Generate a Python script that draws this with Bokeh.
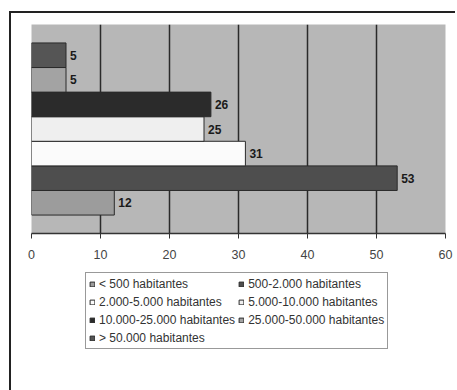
from bokeh.plotting import figure
from bokeh.layouts import column
from bokeh.models import Range1d, FixedTicker, Legend, LegendItem, ColumnDataSource
from bokeh.core.properties import value
from bokeh.embed import file_html
from bokeh.resources import INLINE

categories = ["< 500 habitantes", "500-2.000 habitantes", "2.000-5.000 habitantes",
              "5.000-10.000 habitantes", "10.000-25.000 habitantes",
              "25.000-50.000 habitantes", "> 50.000 habitantes"]
values = [12, 53, 31, 25, 26, 5, 5]
colors = ["#9c9c9c", "#4e4e4e", "#fbfbfb", "#efefef", "#2b2b2b", "#a3a3a3", "#555555"]
x_ticks = [0, 10, 20, 30, 40, 50, 60]

FONT = "Liberation Sans"

# ---- chart ----
p = figure(width=444, height=250, output_backend="svg", toolbar_location=None,
           x_range=Range1d(0, 60), y_range=Range1d(-1.25, 7.25),
           min_border_left=20, min_border_right=10, min_border_top=11, min_border_bottom=30)
p.background_fill_color = "#b7b7b7"
p.border_fill_color = "white"
p.outline_line_color = None

p.yaxis.visible = False
p.ygrid.visible = False
p.xgrid.ticker = FixedTicker(ticks=[10, 20, 30, 40, 50])
p.xgrid.grid_line_color = "#2a2a2a"
p.xgrid.grid_line_width = 1.5

p.xaxis.ticker = FixedTicker(ticks=x_ticks)
p.xaxis.axis_line_color = "#333333"
p.xaxis.axis_line_width = 1.5
p.xaxis.major_tick_line_color = "#333333"
p.xaxis.major_tick_in = 0
p.xaxis.major_tick_out = 5
p.xaxis.minor_tick_line_color = None
p.xaxis.major_label_text_font = FONT
p.xaxis.major_label_text_font_size = "12.5px"
p.xaxis.major_label_text_color = "#444444"
p.xaxis.major_label_standoff = 11

for i, (v, c) in enumerate(zip(values, colors)):
    src = ColumnDataSource(dict(y=[i], right=[v], lab=[str(v)]))
    p.hbar(y="y", right="right", left=0, height=1, source=src,
           fill_color=c, line_color="#2a2a2a", line_width=1)
    p.text(x="right", y="y", text="lab", source=src, x_offset=4,
           text_font=value(FONT), text_font_style="bold", text_font_size="12px",
           text_baseline="middle", text_align="left", text_color="#1a1a1a")

# ---- legend panel ----
lg = figure(width=444, height=127, output_backend="svg", toolbar_location=None,
            x_range=Range1d(0, 1), y_range=Range1d(0, 1), min_border=0)
lg.axis.visible = False
lg.grid.visible = False
lg.outline_line_color = None
lg.background_fill_color = "white"
lg.border_fill_color = "white"

items = []
for cat, c in zip(categories, colors):
    # one off-range bar per category, only so that the legend swatch is drawn
    r = lg.hbar(y=[-5], right=[1], left=0, height=1, fill_color=c,
                line_color="#2a2a2a", line_width=1)
    items.append(LegendItem(label=cat, renderers=[r]))

# legend fills column-major: reorder so rows read like the reference
order = [0, 2, 4, 6, 1, 3, 5]
legend = Legend(items=[items[k] for k in order], ncols=2, location=(54, 41),
                label_text_font=FONT, label_text_font_size="12px",
                label_text_color="#333333",
                glyph_width=6, glyph_height=6, label_standoff=4,
                spacing=3, padding=3, margin=0, label_height=15,
                border_line_color="#333333", border_line_width=1.5,
                background_fill_color="white", background_fill_alpha=1)
lg.add_layout(legend, "center")

layout = column(p, lg, spacing=0)
layout.styles = {"border-left": "2px solid #222", "border-top": "2px solid #222",
                 "margin-top": "11px", "margin-left": "9px"}

open("out.html", "w").write(file_html(layout, INLINE))
